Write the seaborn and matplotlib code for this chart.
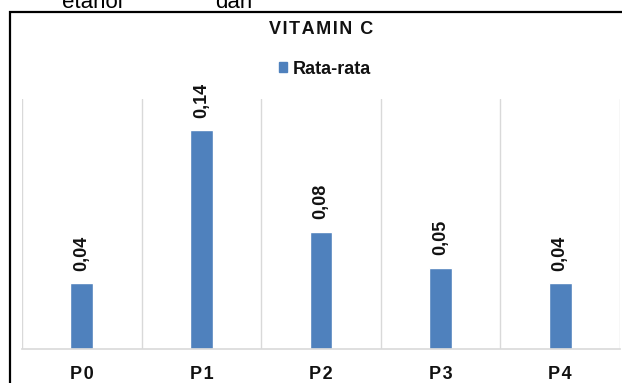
import matplotlib
matplotlib.use("Agg")
import matplotlib.pyplot as plt
import matplotlib.patches as mpatches
import seaborn as sns
import pandas as pd

# data
categories = ["P0", "P1", "P2", "P3", "P4"]
means = [0.042, 0.14, 0.075, 0.052, 0.042]
value_labels = ["0,04", "0,14", "0,08", "0,05", "0,04"]

BAR = "#4F81BD"
GRID = "#D9D9D9"
INK = "#111111"
FONT = ["Liberation Sans", "DejaVu Sans"]
HAIR = "\u200a"

sns.set_theme(style="white")
plt.rcParams["font.family"] = FONT

df = pd.DataFrame({"perlakuan": categories, "nilai": means})

W, H = 622, 383
fig = plt.figure(figsize=(W / 100, H / 100), dpi=100)
ax = fig.add_axes([22 / W, (H - 349) / H, (620 - 22) / W, (349 - 99) / H])

sns.barplot(data=df, x="perlakuan", y="nilai", color=BAR, width=0.19,
            saturation=1, ax=ax)

ax.set_ylim(0, 0.16)
ax.set_xlim(-0.5, len(categories) - 0.5)
for x in range(len(categories) + 1):
    ax.axvline(x - 0.5, color=GRID, lw=1, zorder=0)

for side in ["top", "right", "left"]:
    ax.spines[side].set_visible(False)
ax.spines["bottom"].set_color(GRID)
ax.spines["bottom"].set_linewidth(1.2)

ax.set_yticks([])
ax.set_xlabel("")
ax.set_ylabel("")
ax.tick_params(axis="x", length=0, pad=12)
ax.set_xticks(range(len(categories)))
ax.set_xticklabels([HAIR.join(c) for c in categories], fontsize=13,
                   fontweight="bold", color=INK)

ax.bar_label(ax.containers[0], labels=value_labels, rotation=90, padding=9,
             fontsize=13, fontweight="bold", color=INK)

# legend
handle = mpatches.Patch(color=BAR, label="Rata-rata")
fig.legend(handles=[handle], loc="center", bbox_to_anchor=(325 / W, 1 - 69 / H),
           frameon=False, prop={"weight": "bold", "size": 13},
           handlelength=0.45, handleheight=0.45, handletextpad=0.3,
           labelcolor=INK)

# title
fig.text(321 / W, 1 - 30 / H, HAIR.join("VITAMIN C"), ha="center",
         va="center", fontsize=13, fontweight="bold", color=INK)

# chart frame (document snippet, cut on the right and bottom)
fig.patches.append(mpatches.Rectangle((10 / W, -0.1), 1.2, 1 - 12 / H + 0.1,
                                      transform=fig.transFigure, fill=False,
                                      edgecolor="black", lw=1.6, clip_on=False))

# leftover text from the page above the chart
fig.text(62 / W, 1 - 8 / H, "etanol", fontsize=16, color="black", va="baseline")
fig.text(215 / W, 1 - 8 / H, "dan", fontsize=16, color="black", va="baseline")

fig.savefig("out.png", dpi=100)
